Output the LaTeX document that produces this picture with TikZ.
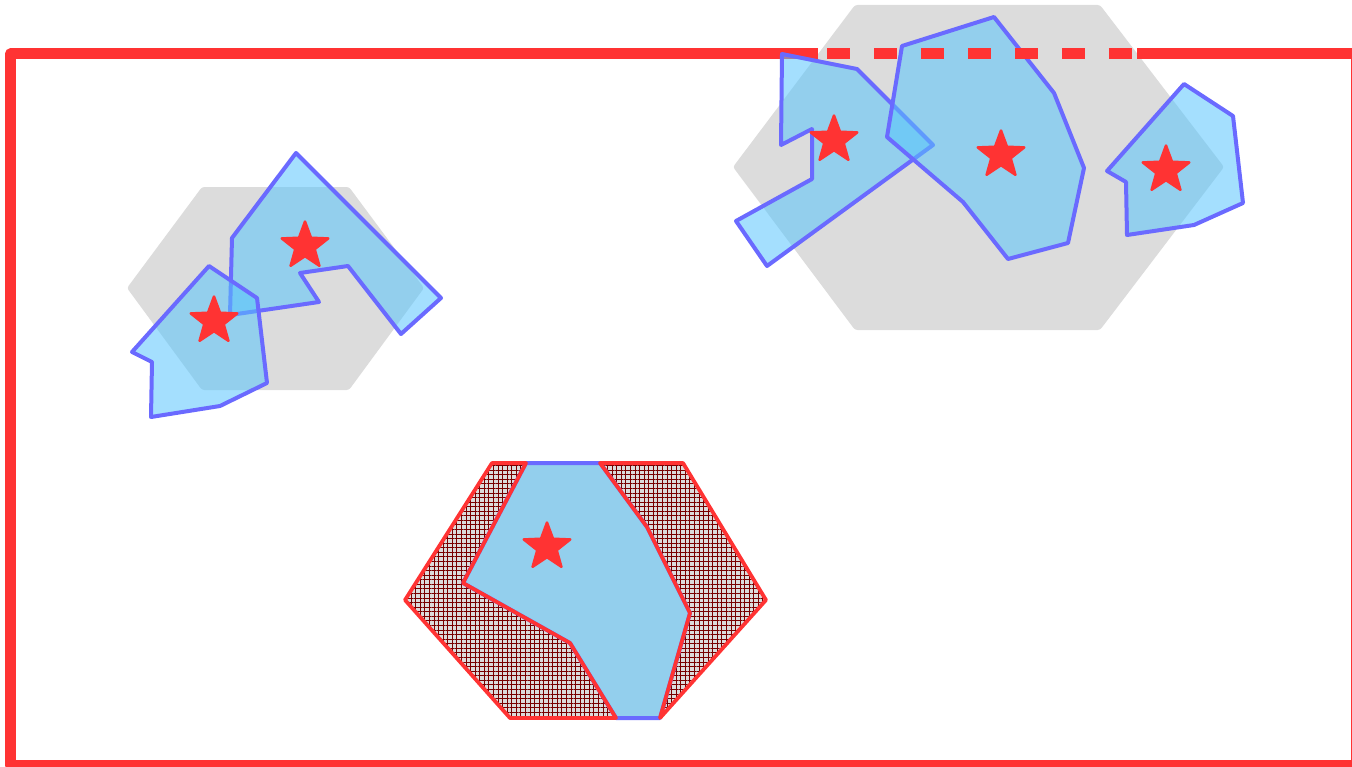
\documentclass[tikz,border=0pt]{standalone}
\usetikzlibrary{shapes.geometric,patterns.meta}
\definecolor{framered}{RGB}{255,51,51}
\definecolor{hexgray}{RGB}{220,220,220}
\definecolor{polyblue}{RGB}{86,196,253}
\definecolor{edgeblue}{RGB}{106,106,255}
\definecolor{hatchred}{RGB}{120,0,0}
\begin{document}
\begin{tikzpicture}[x=0.02cm, y=-0.02cm, line join=round,
	hexbg/.style={fill=hexgray, rounded corners=0.05cm},
	region/.style={fill=polyblue, fill opacity=0.54, draw=edgeblue, line width=0.08cm},
	framebar/.style={draw=framered, line width=0.22cm},
	redstar/.style={star, star points=5, star point ratio=2.4, fill=framered, draw=framered,
		line width=0.05cm, inner sep=0pt, minimum size=0.98cm}]
	\useasboundingbox (0,0) rectangle (1352,767);
	\clip (0,0) rectangle (1352,767);
	
	% 1. 灰色六边形
	\fill[hexbg] (202,187) -- (349,187) -- (424,288) -- (349,390) -- (202,390) -- (127,288) -- cycle;
	\fill[hexbg] (855,5) -- (1100,5) -- (1224,167) -- (1100,330) -- (855,330) -- (733,167) -- cycle;
	\fill[hexbg] (492,463) -- (683,463) -- (766,600) -- (660,718) -- (510,718) -- (405,600) -- cycle;
	
	% 2. 红色外框
	\draw[framebar] (818,54) -- (10.5,54) -- (10.5,765) -- (1356,765) -- (1356,54) -- (1137,54);
	
	% 3. 网格区域
	\fill[even odd rule, pattern={Hatch[angle=0, distance=2.6pt, line width=0.45pt]}, pattern color=hatchred]
		(492,463) -- (683,463) -- (766,600) -- (660,718) -- (510,718) -- (405,600) -- cycle
		(526,463) -- (600,463) -- (647,527) -- (690,613) -- (660,718) -- (616,718) -- (570,643) -- (463,583) -- cycle;
	
	% 4. 蓝色区域
	\draw[region] (296,153) -- (441,298) -- (401,334) -- (348,266) -- (300,273) -- (319,302) -- (230,315) -- (232,238) -- cycle;
	\draw[region] (209,266) -- (257,298) -- (267,383) -- (220,406) -- (151,417) -- (152,362) -- (132,352) -- cycle;
	\draw[region] (782,54) -- (857,69) -- (933,145) -- (767,266) -- (736,221) -- (812,179) -- (812,129) -- (781,145) -- cycle;
	\draw[region] (902,46) -- (994,17) -- (1054,93) -- (1084,168) -- (1068,243) -- (1008,259) -- (963,202) -- (887,137) -- cycle;
	\draw[region] (1107,171) -- (1184,84) -- (1233,116) -- (1243,203) -- (1194,225) -- (1127,235) -- (1126,182) -- cycle;
	\draw[region] (526,463) -- (600,463) -- (647,527) -- (690,613) -- (660,718) -- (616,718) -- (570,643) -- (463,583) -- cycle;
	
	% 5. 红色轮廓与虚线
	\draw[framered, line width=0.075cm] (526,463) -- (492,463) -- (405,600) -- (510,718) -- (616,718) -- (570,643) -- (463,583) -- cycle;
	\draw[framered, line width=0.075cm] (600,463) -- (683,463) -- (766,600) -- (660,718) -- (690,613) -- (647,527) -- cycle;
	\draw[framebar, dash pattern=on 0.46cm off 0.48cm, dash phase=0.76cm] (818,54) -- (1137,54);
	
	% 6. 星形标记
	\node[redstar] (starA) at (305,246) {};
	\node[redstar] (starB) at (214,321) {};
	\node[redstar] (starC) at (834,140) {};
	\node[redstar] (starD) at (1001,155) {};
	\node[redstar] (starE) at (1166,170) {};
	\node[redstar] (starF) at (547,547) {};
\end{tikzpicture}
\end{document}
